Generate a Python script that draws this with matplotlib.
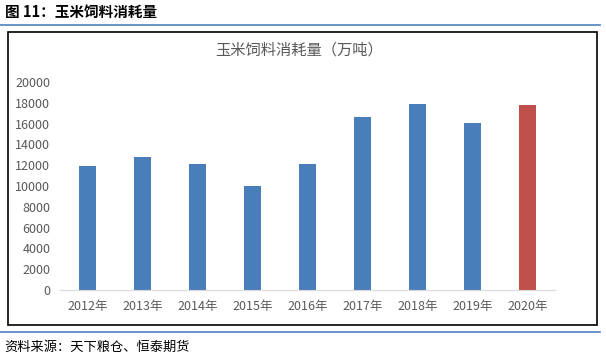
import matplotlib
matplotlib.use("Agg")
import matplotlib.pyplot as plt
from matplotlib.patches import Rectangle
from matplotlib.lines import Line2D

plt.rcParams['font.family'] = ['Noto Sans CJK SC', 'DejaVu Sans']

years = ["2012年", "2013年", "2014年", "2015年", "2016年", "2017年", "2018年", "2019年", "2020年"]
values = [11900, 12800, 12100, 10000, 12100, 16600, 17900, 16050, 17800]
yticks = [0, 2000, 4000, 6000, 8000, 10000, 12000, 14000, 16000, 18000, 20000]
colors = ["#4a7ebb"] * 8 + ["#c0504d"]

W, H = 606, 361
fig = plt.figure(figsize=(W / 100, H / 100), dpi=100)

# header & footer
fig.text(5 / W, 1 - 12 / H, "图 11：玉米饲料消耗量", fontsize=10.5, fontweight="bold",
         va="center", ha="left", color="black")
fig.add_artist(Line2D([0, 600 / W], [1 - 25 / H, 1 - 25 / H], color="#4f81bd", lw=1.2))
fig.add_artist(Line2D([0, 600 / W], [1 - 332 / H, 1 - 332 / H], color="#4f81bd", lw=1.2))
fig.text(4 / W, 1 - 347 / H, "资料来源：天下粮仓、恒泰期货", fontsize=9.5,
         va="center", ha="left", color="black")
# chart box
fig.add_artist(Rectangle((8 / W, 1 - 325 / H), (597 - 8) / W, (325 - 32) / H,
                         transform=fig.transFigure, fill=False, ec="black", lw=1.2))

fig.text(299 / W, 1 - 50 / H, "玉米饲料消耗量（万吨）", fontsize=11, color="#595959",
         ha="center", va="center")

ax = fig.add_axes([60 / W, 1 - 290 / H, (555 - 60) / W, (290 - 82) / H])
x = range(len(years))
ax.bar(x, values, width=0.31, color=colors)
ax.set_xlim(-0.5, len(years) - 0.5)
ax.set_ylim(0, 20000)
ax.set_yticks(yticks)
ax.set_yticklabels([str(v) for v in yticks])
ax.set_xticks(list(x))
ax.set_xticklabels(years)
for s in ["top", "right", "left"]:
    ax.spines[s].set_visible(False)
ax.spines["bottom"].set_color("#d9d9d9")
ax.tick_params(axis="both", length=0, labelsize=9, colors="#595959")
ax.tick_params(axis="y", pad=7)
ax.tick_params(axis="x", pad=7)

fig.savefig("out.png", dpi=100)
